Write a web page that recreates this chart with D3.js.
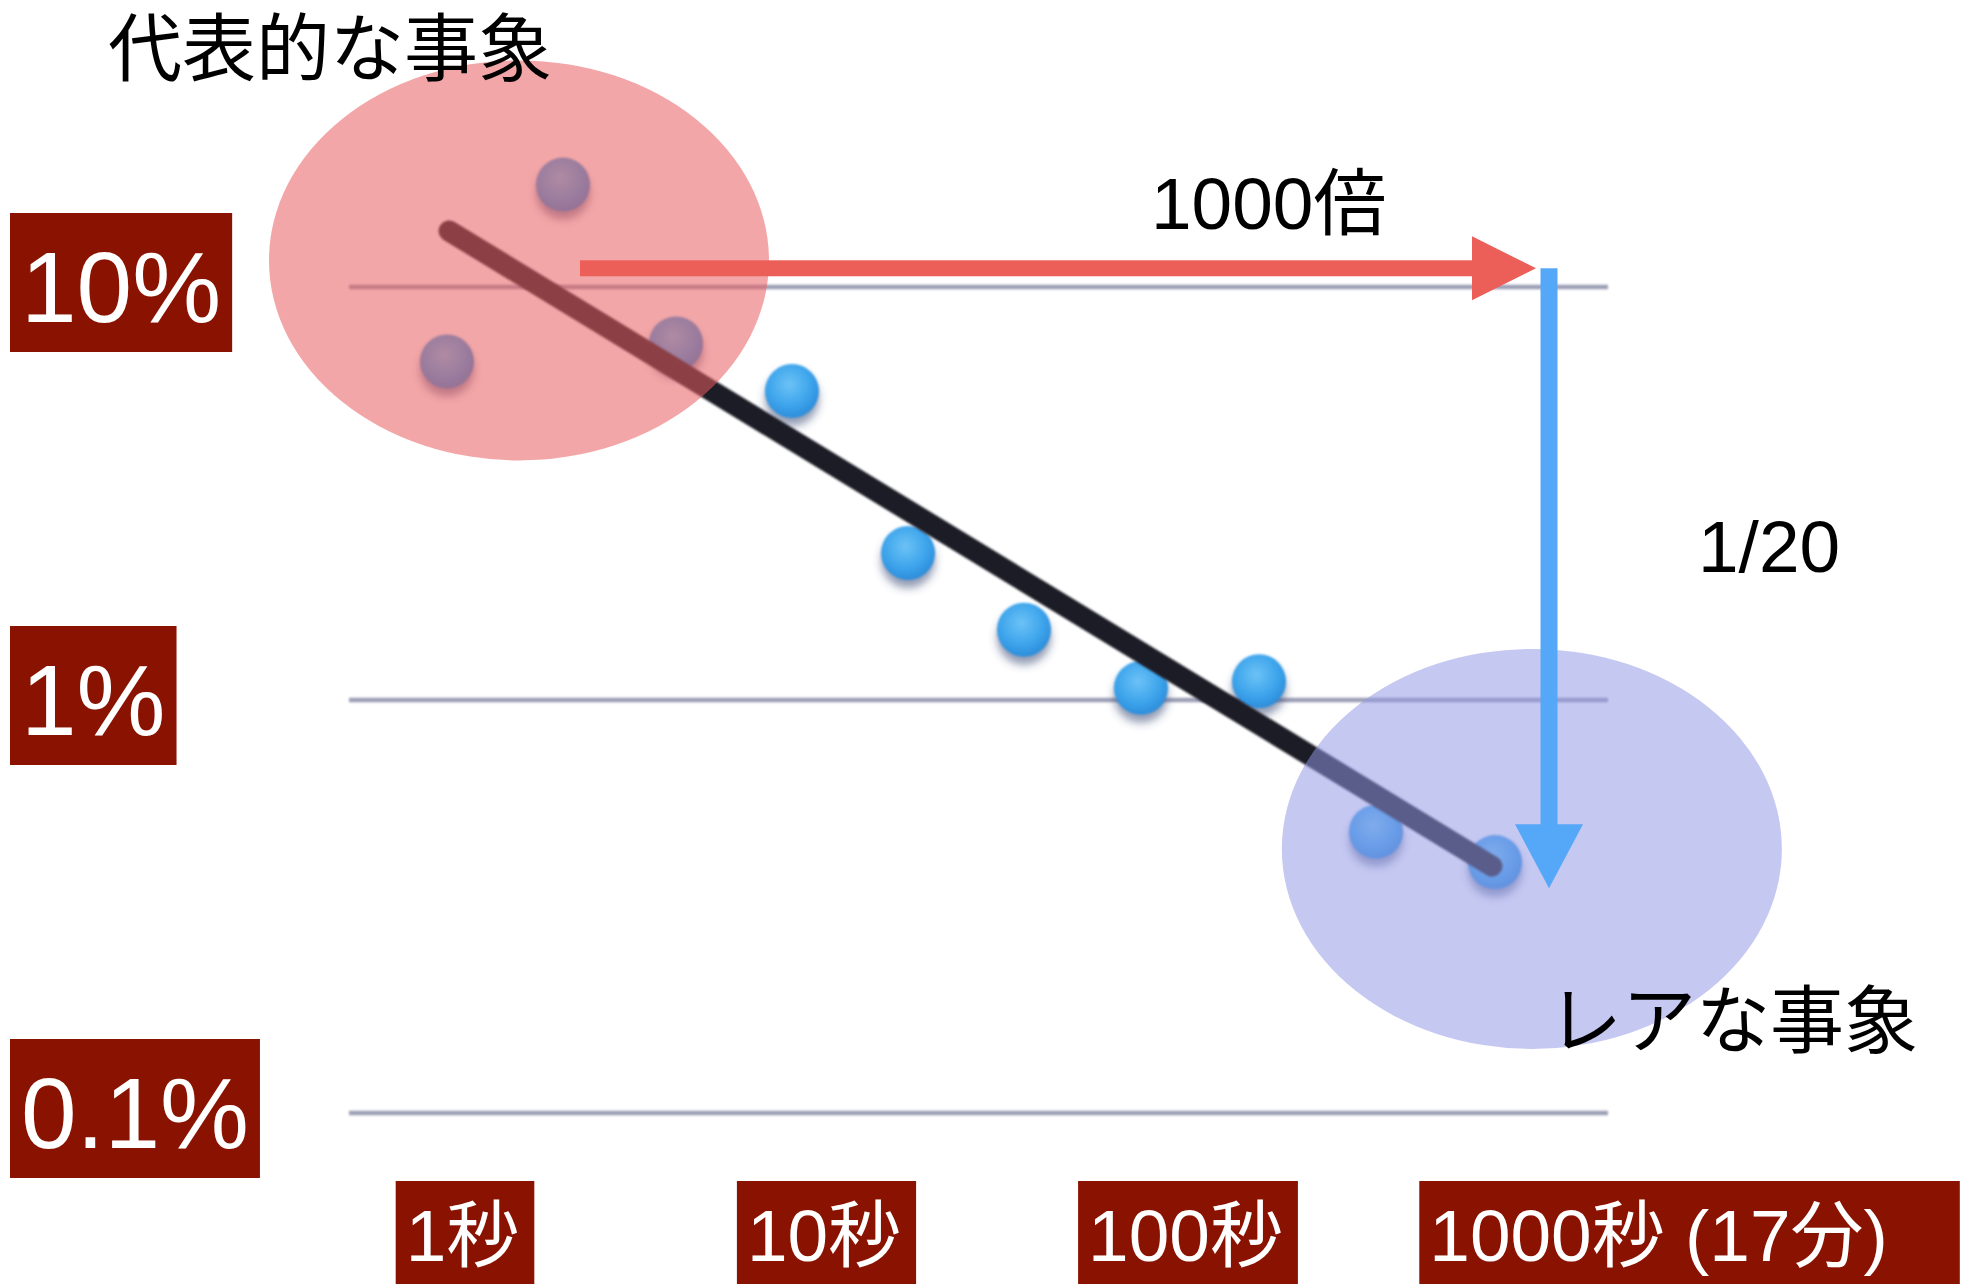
<!DOCTYPE html>
<html>
<head>
<meta charset="utf-8">
<script src="https://cdn.jsdelivr.net/npm/d3@7"></script>
<style>
  html, body { margin: 0; padding: 0; background: #ffffff; }
  svg { display: block; }
  text { font-family: "Liberation Sans", "Noto Sans CJK JP", sans-serif; }
  .jp { font-family: "Noto Sans CJK JP", "Liberation Sans", sans-serif; }
</style>
</head>
<body>
<svg id="chart" width="1970" height="1284"></svg>
<script>
// Event duration (seconds) and share of events (%)
const durations = [0.906, 1.897, 3.896, 8.155, 17.08, 35.75, 75.3, 159.7, 336.6, 718];
const rates     = [6.6, 17.7, 7.3, 5.6, 2.27, 1.48, 1.07, 1.11, 0.48, 0.405];

// Trend line end points
const fitDurations = [0.918, 704];
const fitRates     = [13.67, 0.396];

// Axis ticks and labels
const yTicks = [10, 1, 0.1];
const yTickLabels = ["10%", "1%", "0.1%"];
const xTicks = [1, 10, 100, 1000];
const xTickLabels = ["1秒", "10秒", "100秒", "1000秒"];
const xTickNotes  = ["", "", "", " (17分)"];

// Annotations
const typicalLabel = "代表的な事象";
const rareLabel = "レアな事象";
const ratioLabel = "1000倍";
const fractionLabel = "1/20";

const W = 1970, H = 1284;
const plotLeft = 349, plotRight = 1608;

const x = d3.scaleLog().domain([1, 1000]).range([462.5, 1547]);
const y = d3.scaleLog().domain([0.1, 10]).range([1113, 287]);

const svg = d3.select("#chart");
const defs = svg.append("defs");

defs.append("filter").attr("id", "shadowBlur")
  .attr("x", "-50%").attr("y", "-50%").attr("width", "200%").attr("height", "200%")
  .append("feGaussianBlur").attr("stdDeviation", 4.5);
defs.append("filter").attr("id", "soft")
  .attr("x", "-20%").attr("y", "-20%").attr("width", "140%").attr("height", "140%")
  .append("feGaussianBlur").attr("stdDeviation", 0.9);
defs.append("filter").attr("id", "gridSoft")
  .attr("filterUnits", "userSpaceOnUse")
  .attr("x", 0).attr("y", 0).attr("width", W).attr("height", H)
  .append("feGaussianBlur").attr("stdDeviation", 0.8);
defs.append("filter").attr("id", "lineSoft")
  .attr("filterUnits", "userSpaceOnUse")
  .attr("x", 0).attr("y", 0).attr("width", W).attr("height", H)
  .append("feGaussianBlur").attr("stdDeviation", 0.8);

const grad = defs.append("radialGradient").attr("id", "dotFill")
  .attr("cx", "45%").attr("cy", "38%").attr("r", "60%");
grad.append("stop").attr("offset", "0%").attr("stop-color", "#6cc2f6");
grad.append("stop").attr("offset", "65%").attr("stop-color", "#3ea5ec");
grad.append("stop").attr("offset", "100%").attr("stop-color", "#2e8fdc");

svg.append("rect").attr("width", W).attr("height", H).attr("fill", "#ffffff");

// Horizontal gridlines
svg.append("g").attr("filter", "url(#gridSoft)")
  .selectAll("line").data(yTicks).join("line")
  .attr("x1", plotLeft).attr("x2", plotRight)
  .attr("y1", d => y(d)).attr("y2", d => y(d))
  .attr("stroke", "#9ca0b6").attr("stroke-width", 4.5);

// Data points with soft drop shadows
const pts = durations.map((t, i) => ({ t, p: rates[i] }));
const dots = svg.append("g");
dots.selectAll("circle.shadow").data(pts).join("circle")
  .attr("class", "shadow")
  .attr("cx", d => x(d.t)).attr("cy", d => y(d.p) + 8)
  .attr("r", 27)
  .attr("fill", "#3b4a78").attr("fill-opacity", 0.55)
  .attr("filter", "url(#shadowBlur)");
dots.selectAll("circle.dot").data(pts).join("circle")
  .attr("class", "dot")
  .attr("cx", d => x(d.t)).attr("cy", d => y(d.p))
  .attr("r", 27)
  .attr("fill", "url(#dotFill)")
  .attr("filter", "url(#soft)");

// Trend line
const fit = fitDurations.map((t, i) => ({ t, p: fitRates[i] }));
svg.append("path").datum(fit)
  .attr("d", d3.line().x(d => x(d.t)).y(d => y(d.p)))
  .attr("fill", "none").attr("stroke", "#1b1d28")
  .attr("stroke-width", 21).attr("stroke-linecap", "round")
  .attr("filter", "url(#lineSoft)");

// Highlight zones
svg.append("ellipse")
  .attr("cx", x(1.433)).attr("cy", y(11.6)).attr("rx", 250).attr("ry", 200)
  .attr("fill", "#ea5c5f").attr("fill-opacity", 0.55);
svg.append("ellipse")
  .attr("cx", x(908)).attr("cy", y(0.436)).attr("rx", 250).attr("ry", 200)
  .attr("fill", "#9297e4").attr("fill-opacity", 0.53);

// Horizontal arrow: duration grows 1000 times
const arrowY = y(11.1);
const redTip = x(1000) - 11;
const redStart = x(2.114);
svg.append("rect")
  .attr("x", redStart).attr("y", arrowY - 8).attr("width", redTip - 64 - redStart + 1).attr("height", 16)
  .attr("fill", "#ec5f58");
svg.append("path")
  .attr("d", `M${redTip - 64},${arrowY - 32} L${redTip},${arrowY} L${redTip - 64},${arrowY + 32} Z`)
  .attr("fill", "#ec5f58");

// Vertical arrow: share drops to 1/20
const blueX = x(1000) + 2;
const blueTip = y(0.35);
svg.append("rect")
  .attr("x", blueX - 8.5).attr("y", arrowY).attr("width", 17).attr("height", blueTip - 64 - arrowY + 1)
  .attr("fill", "#55a8f8");
svg.append("path")
  .attr("d", `M${blueX - 34},${blueTip - 64} L${blueX},${blueTip} L${blueX + 34},${blueTip - 64} Z`)
  .attr("fill", "#55a8f8");

// Annotation texts
svg.append("text").attr("class", "jp")
  .attr("x", 108).attr("y", 75).attr("font-size", 74).attr("fill", "#000")
  .text(typicalLabel);
svg.append("text").attr("class", "jp")
  .attr("x", 1548).attr("y", 1047).attr("font-size", 74).attr("fill", "#000")
  .text(rareLabel);
svg.append("text")
  .attr("x", 1151).attr("y", 229).attr("font-size", 73).attr("fill", "#000")
  .text(ratioLabel);
svg.append("text")
  .attr("x", 1698).attr("y", 572).attr("font-size", 73).attr("fill", "#000")
  .text(fractionLabel);

// Y axis labels in dark red boxes
const yLab = svg.append("g").selectAll("g").data(yTicks).join("g");
yLab.append("rect");
yLab.append("text")
  .attr("x", 21).attr("y", d => y(d) + 35)
  .attr("font-size", 100).attr("fill", "#ffffff")
  .text((d, i) => yTickLabels[i]);
yLab.each(function (d) {
  const g = d3.select(this);
  const len = g.select("text").node().getComputedTextLength();
  g.select("rect")
    .attr("x", 10).attr("y", y(d) - 74).attr("width", len + 22).attr("height", 139)
    .attr("fill", "#8a1200");
});

// X axis labels in dark red boxes
const xLab = svg.append("g").selectAll("g").data(xTicks).join("g");
xLab.append("rect");
xLab.append("text")
  .attr("y", 1261).attr("font-size", 73).attr("fill", "#ffffff")
  .each(function (d, i) {
    const t = d3.select(this);
    t.append("tspan").attr("class", "main").text(xTickLabels[i]);
    if (xTickNotes[i]) t.append("tspan").text(xTickNotes[i]);
  });
xLab.each(function (d, i) {
  const g = d3.select(this);
  const txt = g.select("text");
  const mainLen = txt.select("tspan.main").node().getComputedTextLength();
  const fullLen = txt.node().getComputedTextLength();
  const start = x(d) - mainLen / 2;
  txt.attr("x", start);
  const padR = xTickNotes[i] ? 72 : 15;
  g.select("rect")
    .attr("x", start - 10).attr("y", 1181)
    .attr("width", fullLen + 10 + padR).attr("height", 110)
    .attr("fill", "#8a1200");
});
</script>
</body>
</html>
